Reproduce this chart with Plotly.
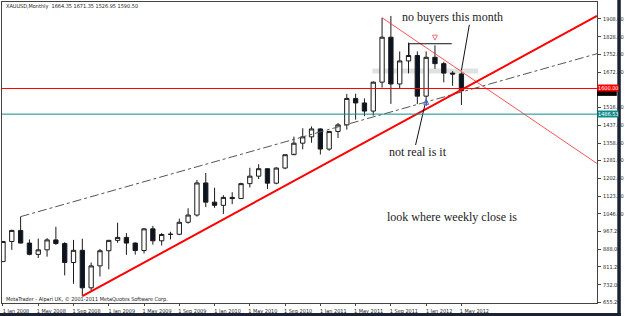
import plotly.graph_objects as go

# ---------------- data ----------------
months = ["Jan","Feb","Mar","Apr","May","Jun","Jul","Aug","Sep","Oct","Nov","Dec"]
labels = [f"{m} {y}" for y in range(2008, 2013) for m in months][:53]
opens  = [834, 923, 972, 916, 866, 886, 930, 914, 830, 884, 718, 815,
          882, 928, 941, 916, 883, 979, 926, 954, 955, 1008, 1040, 1182,
          1097, 1083, 1118, 1113, 1179, 1212, 1245, 1181, 1248, 1307, 1358, 1386,
          1421, 1332, 1410, 1439, 1556, 1536, 1500, 1628, 1827, 1620, 1722, 1746,
          1566, 1738, 1710, 1668, 1664.35]
highs  = [924, 975, 1033, 932, 936, 938, 988, 920, 930, 935, 830, 890,
          930, 1006, 960, 919, 982, 992, 960, 966, 1024, 1070, 1195, 1226,
          1161, 1128, 1141, 1183, 1249, 1265, 1246, 1251, 1307, 1387, 1424, 1432,
          1424, 1412, 1447, 1576, 1577, 1556, 1632, 1913, 1921, 1764, 1803, 1764,
          1764, 1791, 1718, 1677, 1671.35]
lows   = [834, 886, 915, 862, 850, 856, 908, 773, 736, 681, 705, 768,
          800, 917, 864, 865, 870, 909, 905, 932, 951, 1002, 1033, 1075,
          1072, 1045, 1088, 1112, 1162, 1199, 1155, 1176, 1243, 1313, 1331, 1360,
          1308, 1324, 1381, 1418, 1462, 1478, 1480, 1604, 1532, 1600, 1667, 1531,
          1523, 1687, 1627, 1612, 1526.95]
closes = [923, 972, 916, 866, 886, 930, 914, 830, 884, 718, 815, 882,
          928, 941, 916, 883, 979, 926, 954, 955, 1008, 1040, 1182, 1097,
          1083, 1118, 1113, 1179, 1212, 1245, 1181, 1248, 1307, 1358, 1386, 1421,
          1332, 1410, 1439, 1556, 1536, 1500, 1628, 1827, 1620, 1722, 1746, 1566,
          1738, 1710, 1668, 1664, 1590.50]

xtick_idx = list(range(0, 53, 4))
xtick_text = ["1 " + labels[i] for i in xtick_idx]
ytick_vals = [655.2, 732.0, 811.2, 888.0, 967.2, 1046.4, 1123.2, 1202.4, 1281.6,
              1358.4, 1437.6, 1516.8, 1672.8, 1752.0, 1828.8, 1908.0]

# drawn objects (index, price)
support_line = ([9, 67.38], [681, 1921])
resist_line = ([43, 67.38], [1913, 1268])
channel_line = ([2, 67.38], [1033, 1754])
level_red = 1600.0
level_teal = 1486.53
last_close = 1590.50
band = ([41.9, 53.9], [1666, 1688])
bracket = ([46.05, 46.05, 50.9], [1745, 1798, 1798])
pink_arrow = (49, 1814)
blue_arrow = (48, 1552)
note1_line = ([52.9, 52.0], [1882, 1680])
note2_line = ([46.8, 47.85], [1350, 1526])

xr = [-0.112, 67.38]
yr = [650.8, 1982.7]

fig = go.Figure()

# gray band
fig.add_shape(type="rect", x0=band[0][0], x1=band[0][1], y0=band[1][0], y1=band[1][1],
              fillcolor="rgba(200,200,200,0.55)", line_width=0, layer="below")

# horizontal levels
fig.add_shape(type="line", x0=xr[0], x1=xr[1], y0=level_red, y1=level_red,
              line=dict(color="#ff0000", width=1))
fig.add_shape(type="line", x0=xr[0], x1=xr[1], y0=level_teal, y1=level_teal,
              line=dict(color="#0e8c8c", width=1))

# trendlines
fig.add_trace(go.Scatter(x=channel_line[0], y=channel_line[1], mode="lines",
                         line=dict(color="#555555", width=1, dash="dashdot"),
                         hoverinfo="skip", showlegend=False))
fig.add_trace(go.Scatter(x=resist_line[0], y=resist_line[1], mode="lines",
                         line=dict(color="rgba(255,40,40,0.8)", width=1),
                         hoverinfo="skip", showlegend=False))

fig.add_trace(go.Candlestick(
    x=list(range(len(opens))), open=opens, high=highs, low=lows, close=closes,
    increasing=dict(fillcolor="#ffffff", line=dict(color="#1a1a1a", width=1)),
    decreasing=dict(fillcolor="#0b1422", line=dict(color="#1a1a1a", width=1)),
    whiskerwidth=0, showlegend=False, hoverinfo="skip"))

fig.add_trace(go.Scatter(x=support_line[0], y=support_line[1], mode="lines",
                         line=dict(color="#ff0000", width=2),
                         hoverinfo="skip", showlegend=False))

# bracket
fig.add_trace(go.Scatter(x=bracket[0], y=bracket[1], mode="lines",
                         line=dict(color="#111111", width=1),
                         hoverinfo="skip", showlegend=False))
# arrows
fig.add_trace(go.Scatter(x=[pink_arrow[0]], y=[pink_arrow[1]], mode="markers",
                         marker=dict(symbol="arrow-down", size=5, color="rgba(255,255,255,0)",
                                     line=dict(color="#f07070", width=1)),
                         hoverinfo="skip", showlegend=False))
fig.add_trace(go.Scatter(x=[blue_arrow[0]], y=[blue_arrow[1]], mode="markers",
                         marker=dict(symbol="arrow-up", size=5, color="rgba(255,255,255,0)",
                                     line=dict(color="#4060e0", width=1)),
                         hoverinfo="skip", showlegend=False))
# note pointer lines
for ln in (note1_line, note2_line):
    fig.add_trace(go.Scatter(x=ln[0], y=ln[1], mode="lines",
                             line=dict(color="#111111", width=1),
                             hoverinfo="skip", showlegend=False))

serif = dict(family="Liberation Serif, DejaVu Serif, serif", size=12, color="#222222")
small = dict(family="DejaVu Sans Condensed, Liberation Sans, sans-serif", size=5.5, color="#222222")


def px_to_paper(px, py):
    return (px - 1) / 601, (304 - py) / 303

ann = []
for text, px, py in [("no buyers this month", 403, 16),
                     ("not real is it", 390, 152),
                     ("look where weekly close is", 388, 217)]:
    xp, yp = px_to_paper(px, py)
    ann.append(dict(x=xp, y=yp, xref="paper", yref="paper", text=text, showarrow=False,
                    xanchor="left", yanchor="middle", font=serif))

xp, yp = px_to_paper(3, 6)
ann.append(dict(x=xp, y=yp, xref="paper", yref="paper",
                text="XAUUSD,Monthly  1664.35 1671.35 1526.95 1590.50", showarrow=False,
                xanchor="left", yanchor="middle", font=small))
xp, yp = px_to_paper(3, 300)
ann.append(dict(x=xp, y=yp, xref="paper", yref="paper",
                text="MetaTrader - Alpari UK, © 2001-2011 MetaQuotes Software Corp.", showarrow=False,
                xanchor="left", yanchor="middle", font=small))

# last-price box peeking out under the red level box
_, yb0 = px_to_paper(0, 95.5)
_, yb1 = px_to_paper(0, 90)
fig.add_shape(type="rect", xref="paper", yref="paper", x0=1.0, x1=1.0 + 20 / 601,
              y0=yb0, y1=yb1, fillcolor="#000000", line_width=0)

# price boxes on right axis
for val, bg in [(level_red, "#ff0000"), (level_teal, "#0e8c8c")]:
    ann.append(dict(x=1.0, y=val, xref="paper", yref="y", text=f"{val:.2f}", showarrow=False,
                    xanchor="left", yanchor="middle", bgcolor=bg, borderpad=0,
                    font=dict(family=small["family"], size=5.5, color="#ffffff")))
fig.update_layout(annotations=ann)

# window frame (dark)
_, yf0 = px_to_paper(0, 316)
_, yf1 = px_to_paper(0, 314)
fig.add_shape(type="rect", xref="paper", yref="paper", x0=-0.01, x1=1.04,
              y0=yf0 - 0.01, y1=yf1, fillcolor="#1a2233", line_width=0)
fig.add_shape(type="rect", xref="paper", yref="paper", x0=(622.5 - 1) / 601, x1=1.04,
              y0=yf0 - 0.01, y1=1.01, fillcolor="#1a2233", line_width=0)

fig.update_layout(
    width=625, height=316, margin=dict(l=1, r=23, t=1, b=12),
    paper_bgcolor="#ffffff", plot_bgcolor="#ffffff",
    showlegend=False,
    xaxis=dict(range=xr, tickmode="array", tickvals=xtick_idx, ticktext=xtick_text,
               showgrid=False, zeroline=False, showline=True, linecolor="#444444",
               linewidth=1, mirror=True, ticks="outside", ticklen=2, tickcolor="#444444",
               tickfont=small, ticklabelshift=13, ticklabelstandoff=0,
               rangeslider=dict(visible=False), fixedrange=True),
    yaxis=dict(range=yr, side="right", tickmode="array", tickvals=ytick_vals,
               ticktext=[f"{v:.2f}" for v in ytick_vals],
               showgrid=False, zeroline=False, showline=True, linecolor="#444444",
               linewidth=1, mirror=True, ticks="outside", ticklen=3, tickcolor="#444444",
               tickfont=small, ticklabelstandoff=1, fixedrange=True),
)

fig.write_html("out.html")
